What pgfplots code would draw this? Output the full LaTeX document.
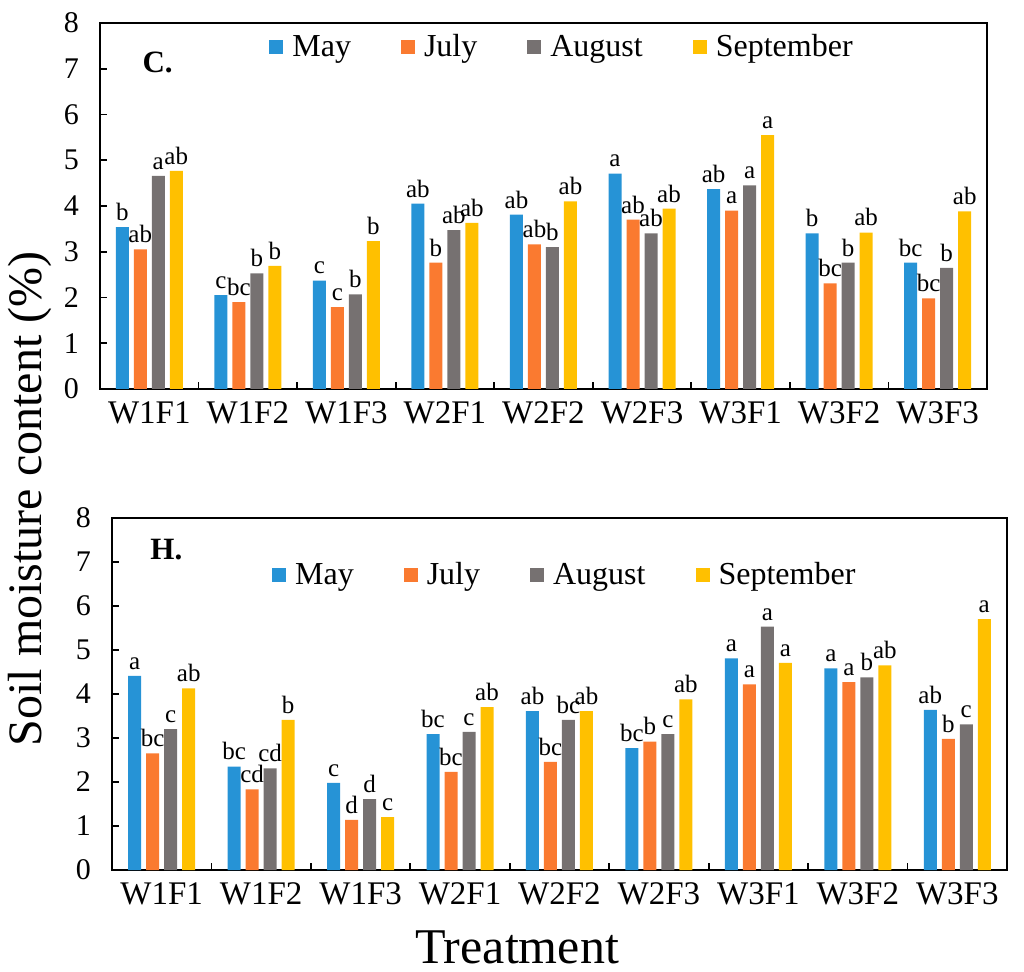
\documentclass[border=0pt]{standalone}
\usepackage{fontspec}
\setmainfont{Liberation Serif}
\usepackage{pgfplots}
\usepackage{pgfplotstable}
\pgfplotsset{compat=1.18}

\definecolor{cMay}{RGB}{38,147,214}
\definecolor{cJul}{RGB}{250,122,48}
\definecolor{cAug}{RGB}{118,113,113}
\definecolor{cSep}{RGB}{255,192,0}

% Panel C: soil moisture (%) by treatment, with significance letters
\pgfplotstableread{
x may  mayl jul  jull aug  augl sep  sepl
0 3.54 b    3.05 ab   4.66 a    4.77 ab
1 2.05 c    1.90 bc   2.53 b    2.69 b
2 2.37 c    1.79 c    2.07 b    3.23 b
3 4.05 ab   2.76 b    3.47 ab   3.63 ab
4 3.81 ab   3.16 ab   3.10 b    4.10 ab
5 4.71 a    3.70 ab   3.40 ab   3.94 ab
6 4.37 ab   3.90 a    4.45 a    5.55 a
7 3.40 b    2.31 bc   2.76 b    3.42 ab
8 2.76 bc   1.98 bc   2.65 b    3.88 ab
}\dataC

% Panel H
\pgfplotstableread{
x may  mayl jul  jull aug  augl sep  sepl
0 4.41 a    2.65 bc   3.20 c    4.13 ab
1 2.35 bc   1.83 cd   2.31 cd   3.41 b
2 1.98 c    1.14 d    1.61 d    1.20 c
3 3.09 bc   2.23 bc   3.14 c    3.70 ab
4 3.61 ab   2.46 bc   3.41 bc   3.61 ab
5 2.77 bc   2.92 b    3.09 c    3.88 ab
6 4.81 a    4.22 a    5.53 a    4.71 a
7 4.58 a    4.27 a    4.38 b    4.65 ab
8 3.64 ab   2.98 b    3.31 c    5.70 a
}\dataH

\pgfplotsset{
  moisture/.style={
    scale only axis,
    ybar=2.5pt, bar width=6.5pt,
    xmin=-0.5, xmax=8.5, ymin=0, ymax=8,
    xtick={0,...,8},
    xticklabels={W1F1,W1F2,W1F3,W2F1,W2F2,W2F3,W3F1,W3F2,W3F3},
    major x tick style={draw=none},
    minor xtick={0.5,1.5,...,7.5},
    ytick={0,...,8},
    tick align=inside,
    xtick pos=bottom, ytick pos=left,
    major tick length=3.5pt, minor tick length=3.5pt,
    tick style={black, line width=0.9pt},
    axis line style={line width=1pt},
    /pgf/number format/assume math mode=true,
    yticklabel style={font=\fontsize{15}{15}\selectfont, xshift=-7pt},
    xticklabel style={font=\fontsize{16.5}{16.5}\selectfont, yshift=-3pt},
    nodes near coords,
    point meta=explicit symbolic,
    every node near coord/.append style={font=\fontsize{12.5}{12.5}\selectfont, black, inner sep=1.5pt, yshift=1.5pt},
    legend columns=4,
    legend style={draw=none, fill=none, anchor=center,
      font=\fontsize{16}{16}\selectfont,
      /tikz/every even column/.append style={column sep=23pt}},
    legend image code/.code={\fill[##1] (0pt,-3.5pt) rectangle (7pt,3.5pt); \path (9.5pt,0pt);},
  }
}

\begin{document}
\begin{tikzpicture}
\useasboundingbox (0,0) rectangle (512pt,485.5pt);

\begin{axis}[moisture,
  at={(50pt,291pt)}, anchor=south west,
  width=443.5pt, height=183pt,
  legend style={at={(0.522,0.934)}}]
  \addplot[fill=cMay, draw=none] table[x=x, y=may, meta=mayl] {\dataC};
  \addplot[fill=cJul, draw=none] table[x=x, y=jul, meta=jull] {\dataC};
  \addplot[fill=cAug, draw=none] table[x=x, y=aug, meta=augl] {\dataC};
  \addplot[fill=cSep, draw=none] table[x=x, y=sep, meta=sepl] {\dataC};
  \legend{May, July, August, September}
  \node[anchor=west, font=\fontsize{15.5}{15.5}\selectfont\bfseries] at (rel axis cs:0.04,0.893) {C.};
\end{axis}

\begin{axis}[moisture,
  at={(56pt,50.5pt)}, anchor=south west,
  width=447.5pt, height=176pt,
  legend style={at={(0.507,0.838)}}]
  \addplot[fill=cMay, draw=none] table[x=x, y=may, meta=mayl] {\dataH};
  \addplot[fill=cJul, draw=none] table[x=x, y=jul, meta=jull] {\dataH};
  \addplot[fill=cAug, draw=none] table[x=x, y=aug, meta=augl] {\dataH};
  \addplot[fill=cSep, draw=none] table[x=x, y=sep, meta=sepl] {\dataH};
  \legend{May, July, August, September}
  \node[anchor=west, font=\fontsize{15.5}{15.5}\selectfont\bfseries] at (rel axis cs:0.035,0.909) {H.};
\end{axis}

\node[rotate=90, font=\fontsize{24}{24}\selectfont] at (15pt,236pt) {Soil moisture content (\%)};
\node[font=\fontsize{25}{25}\selectfont] at (258.5pt,12pt) {Treatment};
\end{tikzpicture}
\end{document}
